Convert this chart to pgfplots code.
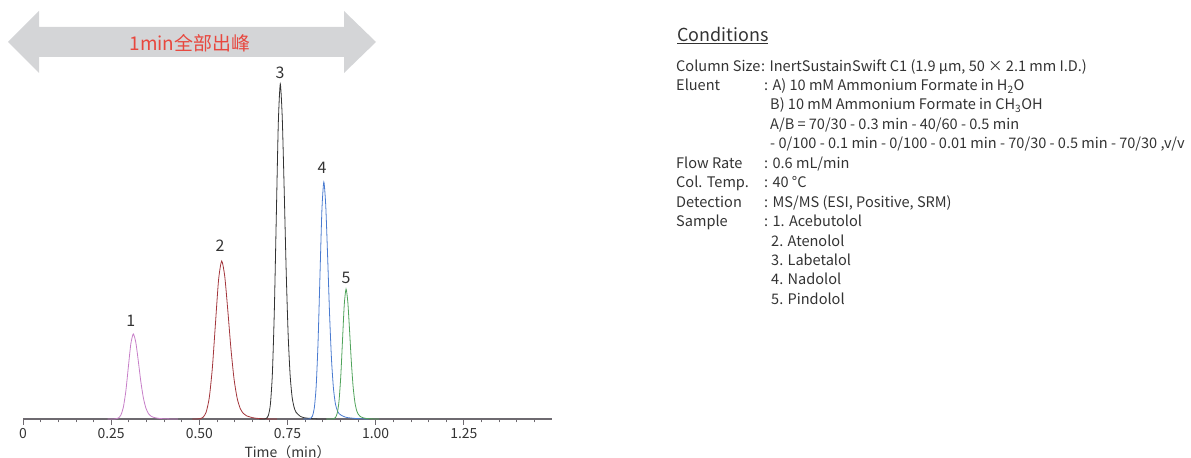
\documentclass[border=0pt]{standalone}
\usepackage{fontspec}
\setmainfont{Noto Sans CJK SC}
\usepackage{pgfplots}
\pgfplotsset{compat=1.18}
\definecolor{axisc}{HTML}{6E6A70}
\definecolor{textc}{HTML}{333333}
\definecolor{c1}{HTML}{C77FC8}
\definecolor{c2}{HTML}{A3363C}
\definecolor{c3}{HTML}{333333}
\definecolor{c4}{HTML}{4A7BD0}
\definecolor{c5}{HTML}{4FA35A}
\definecolor{arrowc}{HTML}{D4D5D7}
\definecolor{redt}{HTML}{E8473E}
\begin{document}
\begin{tikzpicture}[x=1bp,y=1bp]
\path[use as bounding box] (0,0) rectangle (1191,458);
% banner arrow
\fill[arrowc] (8,416) -- (39,447) -- (39,431) -- (344,431) -- (344,447) -- (376,416)
  -- (344,385) -- (344,401) -- (39,401) -- (39,385) -- cycle;
\node[text=redt, font=\fontsize{19}{19}\selectfont] at (190,415) {1min全部出峰};
\begin{axis}[
  at={(23bp,39bp)}, anchor=origin,
  scale only axis, width=529bp, height=410bp,
  xmin=0, xmax=1.5, ymin=0, ymax=410,
  axis x line=bottom, axis y line=none,
  axis line style={-},
  x axis line style={-, color=axisc, line width=1.1bp},
  xtick={0,0.25,0.5,0.75,1,1.25},
  xticklabels={0,0.25,0.50,0.75,1.00,1.25},
  minor xtick={0.05,0.1,0.15,0.2,0.3,0.35,0.4,0.45,0.55,0.6,0.65,0.7,0.8,0.85,0.9,0.95,1.05,1.1,1.15,1.2,1.3,1.35,1.4,1.45},
  tick align=outside,
  major tick length=6bp, minor tick length=3.5bp,
  tick style={color=axisc, line width=0.8bp},
  ytick=\empty,
  /pgf/number format/assume math mode=true,
  xticklabel style={font=\fontsize{14}{14}\selectfont, text=textc},
  xlabel={Time（min）},
  xlabel style={font=\fontsize{14}{14}\selectfont, text=textc},
  clip=false,
  every axis plot/.append style={line width=0.8bp, smooth, tension=0.4},
]
\addplot[c1] coordinates {(0.2400,0)(0.2560,0)(0.2631,0.17)(0.2702,0.94)(0.2773,3.74)(0.2844,11.5)(0.2915,27.6)(0.2986,51.6)(0.3057,75.0)(0.3128,85)(0.3199,76.5)(0.3270,57.8)(0.3341,37.4)(0.3412,21.3)(0.3483,11.1)(0.3554,5.5)(0.3625,3.0)(0.3696,1.7)(0.3838,0.68)(0.3980,0.26)(0.4264,0)(0.44,0)};
\addplot[c2] coordinates {(0.4800,0)(0.4930,0)(0.5018,0.32)(0.5106,1.74)(0.5194,6.95)(0.5282,21.3)(0.5370,51.4)(0.5458,95.9)(0.5546,139.4)(0.5634,158)(0.5722,142.2)(0.5810,107.4)(0.5898,69.5)(0.5986,39.5)(0.6074,20.5)(0.6162,10.3)(0.6250,5.5)(0.6338,3.2)(0.6514,1.26)(0.6690,0.47)(0.7042,0)(0.72,0)};
\addplot[c3] coordinates {(0.6700,0)(0.6847,0)(0.6903,0.67)(0.6959,3.7)(0.7015,14.7)(0.7071,45.2)(0.7127,108.9)(0.7183,203.3)(0.7239,295.5)(0.7295,335)(0.7351,301.5)(0.7407,227.8)(0.7463,147.4)(0.7519,83.8)(0.7575,43.6)(0.7631,21.8)(0.7687,11.7)(0.7743,6.7)(0.7855,2.9)(0.7967,1.3)(0.8191,0.4)(0.84,0)(0.86,0)};
\addplot[c4] coordinates {(0.7950,0)(0.8094,0)(0.81485,0.47)(0.8203,2.6)(0.82575,10.4)(0.8312,32.0)(0.83665,77.0)(0.8421,143.9)(0.84755,209.0)(0.853,237)(0.85845,213.3)(0.8639,161.2)(0.86935,104.3)(0.8748,59.3)(0.88025,30.8)(0.8857,15.4)(0.89115,8.6)(0.8966,5.2)(0.9075,2.8)(0.9184,1.5)(0.9402,0.6)(0.962,0.2)(0.98,0)};
\addplot[c5] coordinates {(0.8600,0)(0.876,0)(0.881,0.26)(0.886,1.43)(0.891,5.7)(0.896,17.6)(0.901,42.3)(0.906,78.9)(0.911,114.7)(0.916,130)(0.921,117)(0.926,88.4)(0.931,57.2)(0.936,32.5)(0.941,16.9)(0.946,8.5)(0.951,4.6)(0.956,2.6)(0.966,1.0)(0.976,0.4)(0.996,0)(1.01,0)};
\node[text=textc, font=\fontsize{16}{16}\selectfont] at (axis cs:0.306,98) {1};
\node[text=textc, font=\fontsize{16}{16}\selectfont] at (axis cs:0.5585,173) {2};
\node[text=textc, font=\fontsize{16}{16}\selectfont] at (axis cs:0.7287,346) {3};
\node[text=textc, font=\fontsize{16}{16}\selectfont] at (axis cs:0.8477,251) {4};
\node[text=textc, font=\fontsize{16}{16}\selectfont] at (axis cs:0.916,141) {5};
\end{axis}
% conditions text
\begin{scope}[every node/.style={anchor=base west, inner sep=0pt, text=textc, font=\fontsize{14.6}{14.6}\selectfont}]
\node[font=\fontsize{18}{18}\selectfont] at (677,416) {\underline{Conditions}};
\node at (676,386) {Column Size};
\node at (761,386) {: InertSustainSwift C1 (1.9 µm, 50 × 2.1 mm I.D.)};
\node at (676,367) {Eluent};
\node at (764,367) {: A) 10 mM Ammonium Formate in H\textsubscript{2}O};
\node at (770,348) {B) 10 mM Ammonium Formate in CH\textsubscript{3}OH};
\node at (770,328) {A/B = 70/30 - 0.3 min - 40/60 - 0.5 min};
\node at (770,309) {- 0/100 - 0.1 min - 0/100 - 0.01 min - 70/30 - 0.5 min - 70/30 ,v/v};
\node at (676,289) {Flow Rate};
\node at (764,289) {: 0.6 mL/min};
\node at (676,270) {Col. Temp.};
\node at (764,270) {: 40 °C};
\node at (676,250) {Detection};
\node at (764,250) {: MS/MS (ESI, Positive, SRM)};
\node at (676,231) {Sample};
\node at (764,231) {: 1. Acebutolol};
\node at (771,211) {2. Atenolol};
\node at (771,192) {3. Labetalol};
\node at (771,173) {4. Nadolol};
\node at (771,153) {5. Pindolol};
\end{scope}
\end{tikzpicture}
\end{document}
